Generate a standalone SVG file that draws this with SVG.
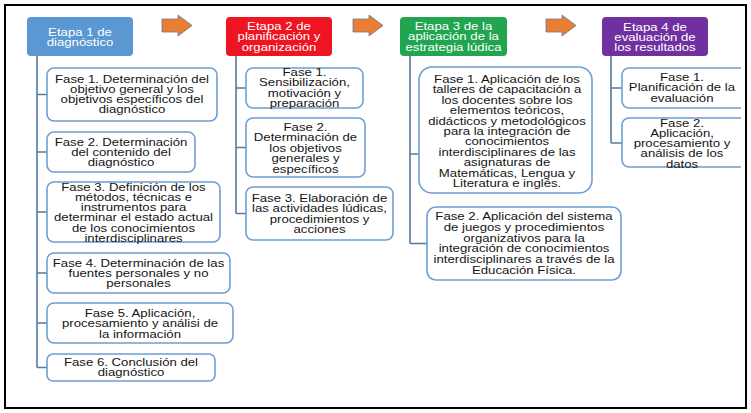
<svg xmlns="http://www.w3.org/2000/svg" width="751" height="413" viewBox="0 0 751 413">
<defs>
<style>
.t{font-family:"Liberation Sans",Arial,sans-serif;font-size:10.3px;fill:#151515;text-anchor:middle}
.h{fill:#ffffff}
.box{fill:#ffffff;stroke:#6c9fd4;stroke-width:1.6}
.conn{stroke:#57799e;stroke-width:1.6;fill:none}
.arrow{fill:#ed7d31;stroke:#5a7ea3;stroke-width:0.8}
</style>
<clipPath id="clipR"><rect x="0" y="0" width="741" height="413"/></clipPath>
</defs>
<rect x="0" y="0" width="751" height="413" fill="#ffffff"/>
<rect x="5" y="5" width="741" height="403" fill="none" stroke="#000000" stroke-width="2"/>

<g id="connectors">
<path class="conn" d="M37,56 V367.5 M37,94.5 H47 M37,152 H47 M37,212 H47 M37,273 H47 M37,323 H47 M37,367.5 H47"/>
<path class="conn" d="M236,56 V213.5 M236,88 H246 M236,147.5 H246 M236,213.5 H246"/>
<path class="conn" d="M410,56 V243.5 M410,154 H419 M410,243.5 H427"/>
<path class="conn" d="M611,56 V143 M611,88 H622 M611,143 H622"/>
</g>

<g id="arrows">
<path class="arrow" d="M162,19 H178 V15 L192,25.5 L178,36 V32 H162 Z"/>
<path class="arrow" d="M353,19 H369 V15 L383,25.5 L369,36 V32 H353 Z"/>
<path class="arrow" d="M546,19 H562 V15 L576,25.5 L562,36 V32 H546 Z"/>
</g>

<g id="etapa1">
<rect x="27" y="17" width="106" height="39" rx="4" fill="#5b97d3"/>
<text class="t h" transform="translate(80,35.5) scale(1.28,1)"><tspan x="0" y="0">Etapa 1 de</tspan><tspan x="0" y="10.3">diagnóstico</tspan></text>
</g>
<g id="e1f1">
<rect class="box" x="47" y="68" width="170" height="53" rx="7"/>
<text class="t" transform="translate(132,82.5) scale(1.28,1)"><tspan x="0" y="0">Fase 1. Determinación del</tspan><tspan x="0" y="10.3">objetivo general y los</tspan><tspan x="0" y="20.6">objetivos específicos del</tspan><tspan x="0" y="30.9">diagnóstico</tspan></text>
</g>
<g id="e1f2">
<rect class="box" x="47" y="132" width="148" height="40" rx="7"/>
<text class="t" transform="translate(121,145.5) scale(1.28,1)"><tspan x="0" y="0">Fase 2. Determinación</tspan><tspan x="0" y="10.3">del contenido del</tspan><tspan x="0" y="20.6">diagnóstico</tspan></text>
</g>
<g id="e1f3">
<rect class="box" x="47" y="182" width="173" height="60" rx="7"/>
<text class="t" transform="translate(133.5,190.5) scale(1.28,1)"><tspan x="0" y="0">Fase 3. Definición de los</tspan><tspan x="0" y="10.3">métodos, técnicas e</tspan><tspan x="0" y="20.6">instrumentos para</tspan><tspan x="0" y="30.9">determinar el estado actual</tspan><tspan x="0" y="41.2">de los conocimientos</tspan><tspan x="0" y="51.5">interdisciplinares</tspan></text>
</g>
<g id="e1f4">
<rect class="box" x="47" y="253" width="183" height="40" rx="7"/>
<text class="t" transform="translate(138.5,266.5) scale(1.28,1)"><tspan x="0" y="0">Fase 4. Determinación de las</tspan><tspan x="0" y="10.3">fuentes personales y no</tspan><tspan x="0" y="20.6">personales</tspan></text>
</g>
<g id="e1f5">
<rect class="box" x="47" y="303" width="186" height="40" rx="7"/>
<text class="t" transform="translate(140,317) scale(1.28,1)"><tspan x="0" y="0">Fase 5. Aplicación,</tspan><tspan x="0" y="10.5">procesamiento y análisi de</tspan><tspan x="0" y="21">la información</tspan></text>
</g>
<g id="e1f6">
<rect class="box" x="47" y="354" width="168" height="27" rx="6"/>
<text class="t" transform="translate(131,365.5) scale(1.28,1)"><tspan x="0" y="0">Fase 6. Conclusión del</tspan><tspan x="0" y="10.3">diagnóstico</tspan></text>
</g>

<g id="etapa2">
<rect x="226" y="17" width="106" height="39" rx="4" fill="#ef1422"/>
<text class="t h" transform="translate(279,30) scale(1.28,1)"><tspan x="0" y="0">Etapa 2 de</tspan><tspan x="0" y="10.5">planificación y</tspan><tspan x="0" y="21">organización</tspan></text>
</g>
<g id="e2f1">
<rect class="box" x="246" y="68" width="117" height="40" rx="7"/>
<text class="t" transform="translate(304.5,76) scale(1.28,1)"><tspan x="0" y="0">Fase 1.</tspan><tspan x="0" y="10.3">Sensibilización,</tspan><tspan x="0" y="20.6">motivación y</tspan><tspan x="0" y="31">preparación</tspan></text>
</g>
<g id="e2f2">
<rect class="box" x="246" y="118" width="119" height="59" rx="7"/>
<text class="t" transform="translate(305.5,131) scale(1.28,1)"><tspan x="0" y="0">Fase 2.</tspan><tspan x="0" y="10.5">Determinación de</tspan><tspan x="0" y="21">los objetivos</tspan><tspan x="0" y="31.5">generales y</tspan><tspan x="0" y="42">específicos</tspan></text>
</g>
<g id="e2f3">
<rect class="box" x="246" y="187" width="147" height="53" rx="7"/>
<text class="t" transform="translate(319.5,202) scale(1.28,1)"><tspan x="0" y="0">Fase 3. Elaboración de</tspan><tspan x="0" y="10.3">las actividades lúdicas,</tspan><tspan x="0" y="20.6">procedimientos y</tspan><tspan x="0" y="31">acciones</tspan></text>
</g>

<g id="etapa3">
<rect x="400" y="17" width="107" height="39" rx="4" fill="#21a550"/>
<text class="t h" transform="translate(453.5,30) scale(1.28,1)"><tspan x="0" y="0">Etapa 3 de la</tspan><tspan x="0" y="10.5">aplicación de la</tspan><tspan x="0" y="21">estrategia lúdica</tspan></text>
</g>
<g id="e3f1">
<rect class="box" x="419" y="67" width="173" height="126" rx="13"/>
<text class="t" transform="translate(507,83) scale(1.28,1)"><tspan x="0" y="0">Fase 1. Aplicación de los</tspan><tspan x="0" y="10.4">talleres de capacitación a</tspan><tspan x="0" y="20.8">los docentes sobre los</tspan><tspan x="0" y="31.2">elementos teóricos,</tspan><tspan x="0" y="41.6">didácticos y metodológicos</tspan><tspan x="0" y="52">para la integración de</tspan><tspan x="0" y="62.4">conocimientos</tspan><tspan x="0" y="72.8">interdisciplinares de las</tspan><tspan x="0" y="83.2">asignaturas de</tspan><tspan x="0" y="93.6">Matemáticas, Lengua y</tspan><tspan x="0" y="104">Literatura e inglés.</tspan></text>
</g>
<g id="e3f2">
<rect class="box" x="427" y="207" width="194" height="73" rx="9"/>
<text class="t" transform="translate(524,220) scale(1.28,1)"><tspan x="0" y="0">Fase 2. Aplicación del sistema</tspan><tspan x="0" y="10.8">de juegos y procedimientos</tspan><tspan x="0" y="21.6">organizativos para la</tspan><tspan x="0" y="32.4">integración de conocimientos</tspan><tspan x="0" y="43.2">interdisciplinares a través de la</tspan><tspan x="0" y="54">Educación Física.</tspan></text>
</g>

<g id="etapa4">
<rect x="602" y="17" width="106" height="39" rx="4" fill="#7030a0"/>
<text class="t h" transform="translate(655,30.5) scale(1.28,1)"><tspan x="0" y="0">Etapa 4 de</tspan><tspan x="0" y="10.3">evaluación de</tspan><tspan x="0" y="20.6">los resultados</tspan></text>
</g>
<g id="e4f1" clip-path="url(#clipR)">
<rect class="box" x="622" y="68" width="130" height="40" rx="7"/>
<text class="t" transform="translate(682,81) scale(1.28,1)"><tspan x="0" y="0">Fase 1.</tspan><tspan x="0" y="10.5">Planificación de la</tspan><tspan x="0" y="21">evaluación</tspan></text>
</g>
<g id="e4f2" clip-path="url(#clipR)">
<rect class="box" x="622" y="118" width="130" height="49" rx="7"/>
<text class="t" transform="translate(682,126.5) scale(1.28,1)"><tspan x="0" y="0">Fase 2.</tspan><tspan x="0" y="10.3">Aplicación,</tspan><tspan x="0" y="20.6">procesamiento y</tspan><tspan x="0" y="30.9">análisis de los</tspan><tspan x="0" y="41.2">datos</tspan></text>
</g>
</svg>
